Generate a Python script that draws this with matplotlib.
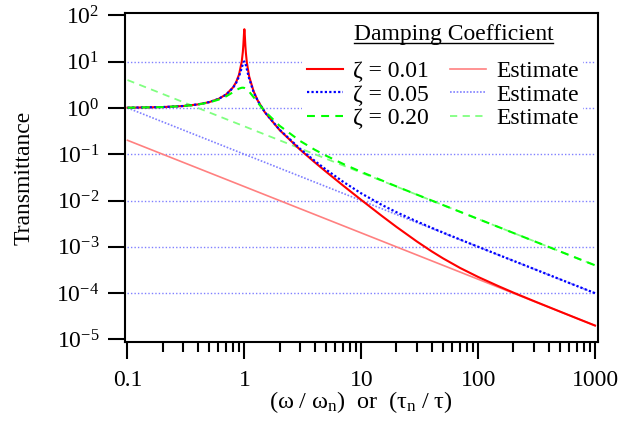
import matplotlib
matplotlib.use('Agg')
import matplotlib.pyplot as plt
from matplotlib.lines import Line2D
from matplotlib.ticker import NullLocator, LogLocator

# frequency ratio (omega / omega_n)
ratio = [0.1, 0.2, 0.3, 0.4, 0.5, 0.6, 0.7, 0.8, 0.85, 0.9, 0.95, 0.97, 0.98, 0.99,
         0.995, 1.0, 1.005, 1.01, 1.02, 1.03, 1.05, 1.1, 1.2, 1.3, 1.5, 2, 3, 4, 5,
         7, 10, 15, 20, 30, 40, 50, 70, 100, 150, 200, 300, 500, 700, 1000]

# transmittance
trans_001 = [1.010, 1.042, 1.099, 1.190, 1.333, 1.562, 1.961, 2.778, 3.597, 5.24,
             10.07, 16.08, 22.63, 35.6, 44.9, 50.0, 44.5, 35.1, 22.1, 15.56, 9.56,
             4.74, 2.27, 1.449, 0.800, 0.3336, 0.1252, 0.0669, 0.0419, 0.02104,
             0.0103, 0.00466, 0.00270, 0.00130, 0.000801, 0.000566, 0.000351,
             0.000224, 0.000141, 0.000103, 6.76e-5, 4.02e-5, 2.86e-5, 2.00e-5]
trans_005 = [1.010, 1.042, 1.099, 1.190, 1.332, 1.559, 1.947, 2.720, 3.458, 4.777,
             7.379, 8.845, 9.506, 9.951, 10.05, 10.05, 9.951, 9.76, 9.162, 8.401,
             6.853, 4.244, 2.208, 1.436, 0.803, 0.3392, 0.1304, 0.0718, 0.0466,
             0.02543, 0.01428, 0.00805, 0.00560, 0.00352, 0.00258, 0.00204,
             0.00144, 0.001005, 0.000668, 0.000501, 0.000334, 0.000200, 0.000143,
             0.000100]
trans_020 = [1.010, 1.041, 1.097, 1.184, 1.314, 1.505, 1.785, 2.180, 2.407, 2.611,
             2.727, 2.733, 2.726, 2.713, 2.703, 2.693, 2.680, 2.666, 2.634, 2.597,
             2.509, 2.241, 1.704, 1.305, 0.841, 0.4125, 0.1931, 0.1251, 0.0929,
             0.0618, 0.0416, 0.0272, 0.0202, 0.01339, 0.01003, 0.00801, 0.00572,
             0.00400, 0.00267, 0.00200, 0.001333, 0.000800, 0.000571, 0.000400]

# high-frequency estimates (straight lines on log-log)
est_ratio = [0.1, 1000]
est_001 = [0.2, 2e-5]
est_005 = [1.0, 1e-4]
est_020 = [4.0, 4e-4]

grid_levels = [1e-4, 1e-3, 1e-2, 1e-1, 1e0, 1e1]
x_ticks = [0.1, 1, 10, 100, 1000]
x_labels = ['0.1', '1', '10', '100', '1000']
y_ticks = [1e-5, 1e-4, 1e-3, 1e-2, 1e-1, 1e0, 1e1, 1e2]
zeta_labels = ['ζ = 0.01', 'ζ = 0.05', 'ζ = 0.20']

plt.rcParams['font.family'] = 'Liberation Serif'
plt.rcParams['mathtext.fontset'] = 'custom'
plt.rcParams['mathtext.rm'] = 'Liberation Serif'
plt.rcParams['mathtext.it'] = 'Liberation Serif:italic'
plt.rcParams['axes.unicode_minus'] = False

W, H = 635, 423
fig = plt.figure(figsize=(W / 100, H / 100), dpi=100)
ax = fig.add_axes([124.5 / W, 81 / H, 473 / W, 329 / H])
ax.set_xscale('log')
ax.set_yscale('log')

ax.hlines(grid_levels, 0.1, 1000, colors='#8080ff', linestyles=(0, (1, 1.5)),
          linewidth=1.0, zorder=1)

e1, = ax.plot(est_ratio, est_001, color='#ff8080', lw=1.2, zorder=2)
e2, = ax.plot(est_ratio, est_005, color='#8080ff', lw=1.2, ls=(0, (1, 1)), zorder=2)
e3, = ax.plot(est_ratio, est_020, color='#80ff80', lw=1.3, ls=(0, (4, 3)), zorder=2)

l1, = ax.plot(ratio, trans_001, color='#ff0000', lw=1.5, zorder=3)
l2, = ax.plot(ratio, trans_005, color='#0000ff', lw=1.6, ls=(0, (1, 1)), zorder=3)
l3, = ax.plot(ratio, trans_020, color='#00ff00', lw=1.5, ls=(0, (3.8, 3)), zorder=3)

ax.set_xlim(0.0943, 1050)
ax.set_ylim(8.83e-6, 112)
ax.set_xticks(x_ticks, labels=x_labels)
ax.xaxis.set_minor_locator(LogLocator(base=10, subs=range(2, 10)))
ax.set_yticks(y_ticks)
ax.yaxis.set_minor_locator(NullLocator())

for sp in ax.spines.values():
    sp.set_linewidth(1.5)
ax.tick_params(which='major', direction='out', length=12, width=1.5,
               labelsize=17)
ax.tick_params(axis='x', which='major', pad=8)
ax.tick_params(axis='y', which='major', pad=6)
ax.tick_params(which='minor', direction='out', length=7, width=1.5)

ax.set_xlabel(r'$\mathregular{(ω\ /\ ω_n)\ \ or\ \ (τ_n\ /\ τ)}$', fontsize=17.5,
              labelpad=-1)
ax.set_ylabel('Transmittance', fontsize=17)
ax.yaxis.set_label_coords(-0.19, 0.5)

leg = ax.legend([l1, l2, l3, e1, e2, e3], zeta_labels + ['Estimate'] * 3,
                ncol=2, loc='upper left', bbox_to_anchor=(302 / W, 1 - 56 / H),
                bbox_transform=fig.transFigure, frameon=True, framealpha=1,
                facecolor='white', edgecolor='none', fancybox=False,
                borderpad=0.2, handlelength=1.55, handletextpad=0.4,
                columnspacing=0.9, labelspacing=0.08, fontsize=17,
                borderaxespad=0)

title = fig.text(453.5 / W, 1 - 40 / H, 'Damping Coefficient', fontsize=17,
                 ha='center', va='baseline')
fig.canvas.draw()
bb = title.get_window_extent(fig.canvas.get_renderer())
fig.add_artist(Line2D([bb.x0 / W, bb.x1 / W], [(H - 43) / H] * 2,
                      color='black', lw=1.0, transform=fig.transFigure))

fig.savefig('out.png', dpi=100)
